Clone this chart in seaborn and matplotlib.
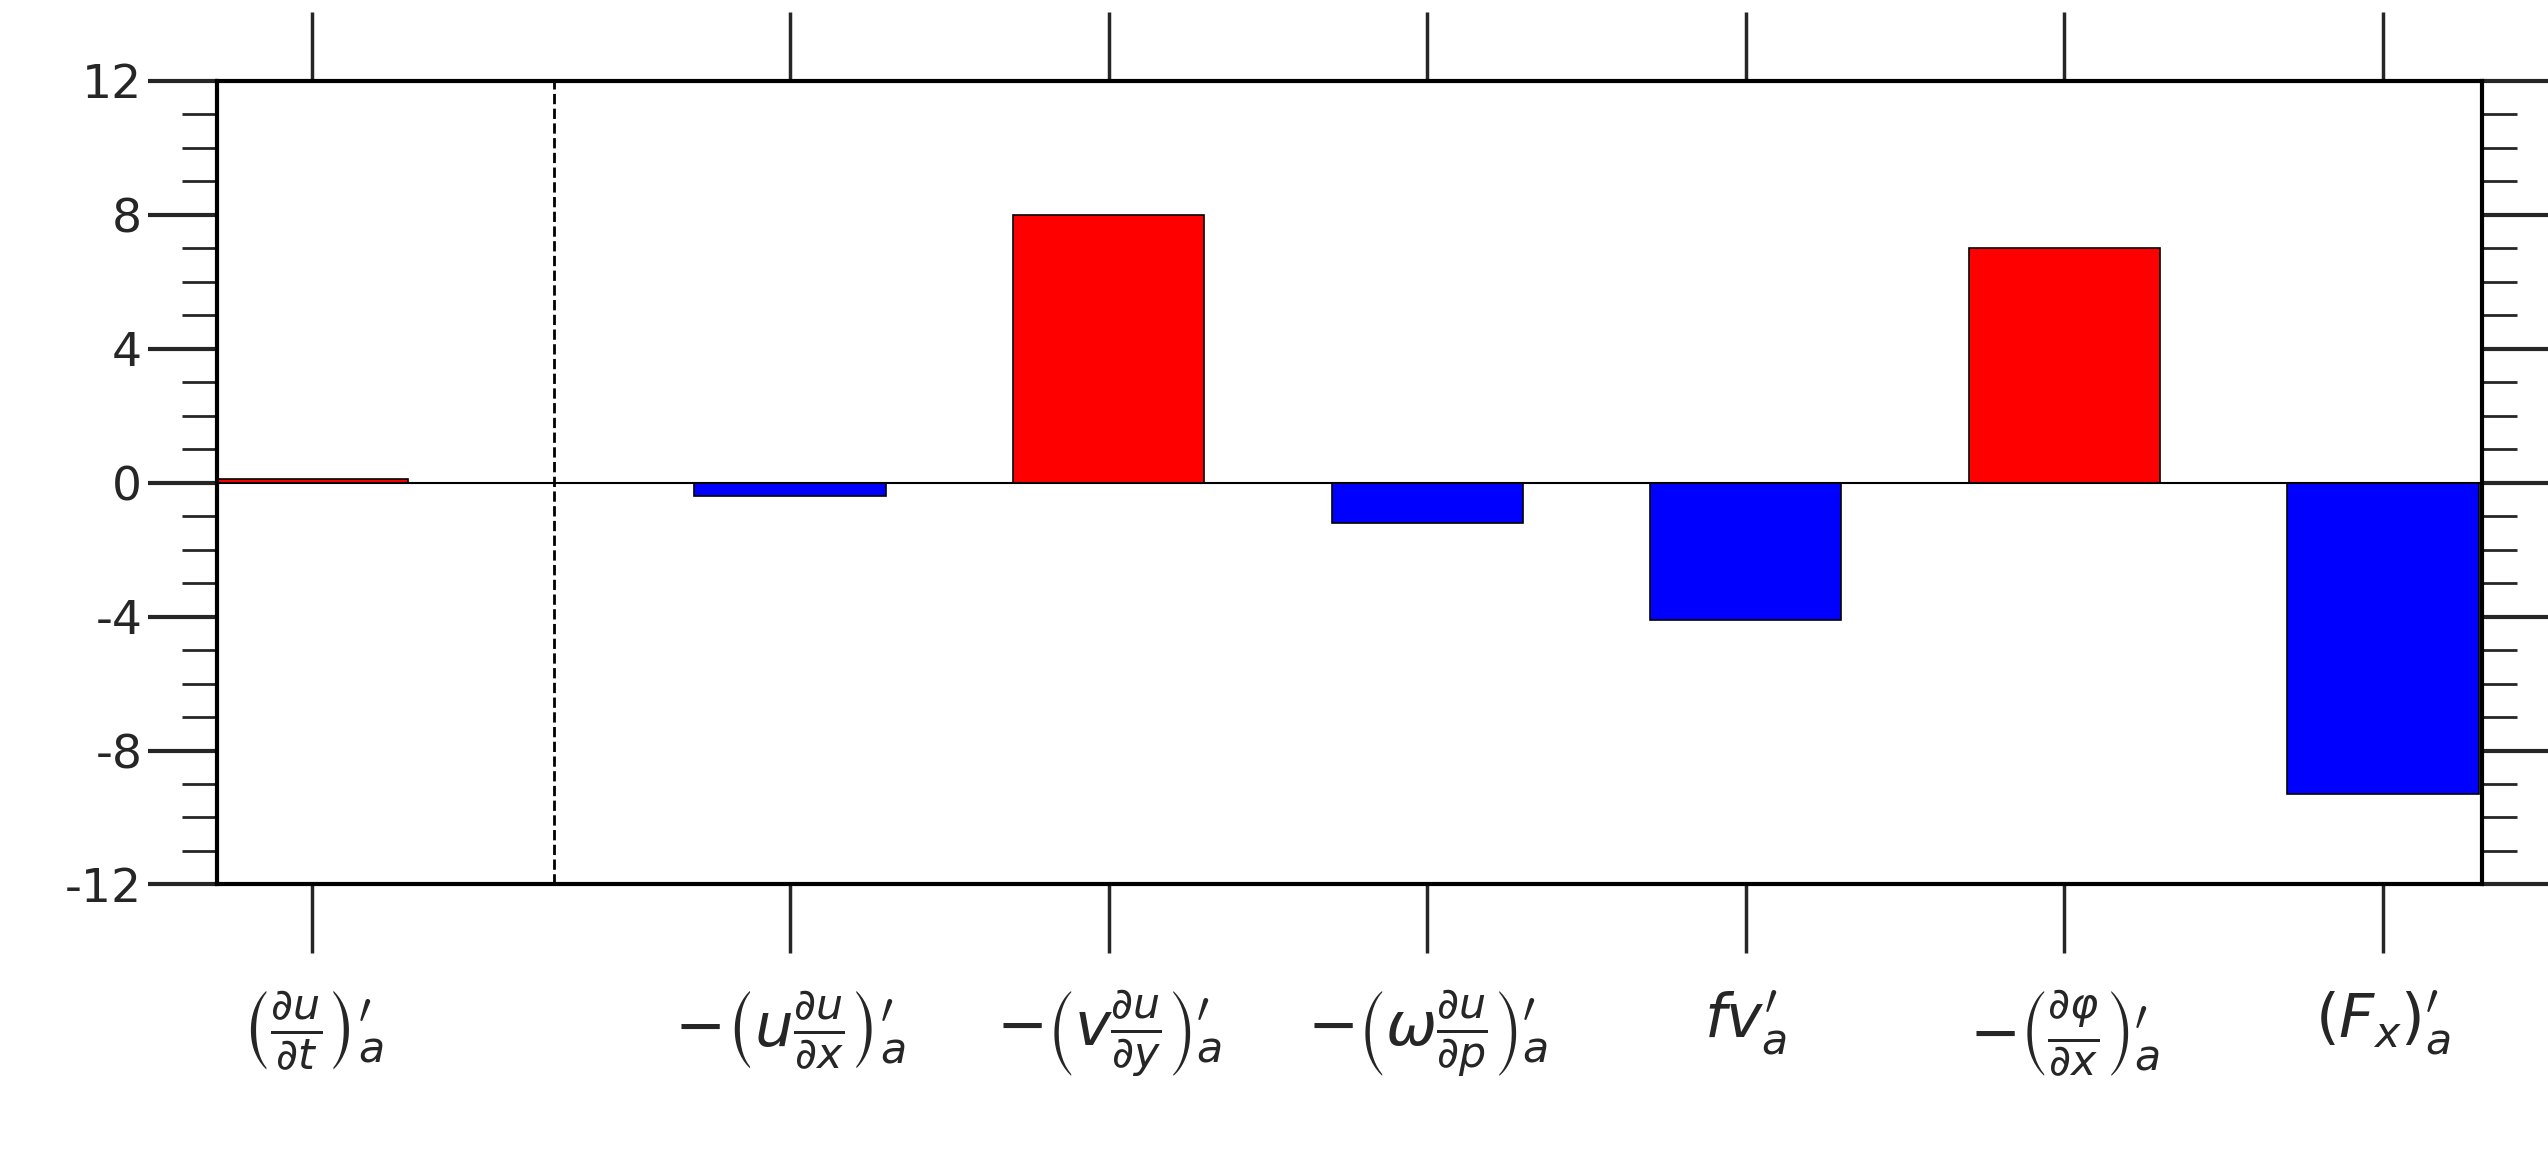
import matplotlib
matplotlib.use('Agg')
import matplotlib.pyplot as plt
from matplotlib.ticker import MultipleLocator
import seaborn as sns
import pandas as pd

# --- Data ---
positions = [0, 1.5, 2.5, 3.5, 4.5, 5.5, 6.5]
values = [0.1, -0.4, 8.0, -1.2, -4.1, 7.0, -9.3]
labels = [
    r"$\left(\frac{\partial u}{\partial t}\right)_a^{\prime}$",
    r"$-\left(u\frac{\partial u}{\partial x}\right)_a^{\prime}$",
    r"$-\left(v\frac{\partial u}{\partial y}\right)_a^{\prime}$",
    r"$-\left(\omega\frac{\partial u}{\partial p}\right)_a^{\prime}$",
    r"$fv_a^{\prime}$",
    r"$-\left(\frac{\partial \varphi}{\partial x}\right)_a^{\prime}$",
    r"$(F_x)_a^{\prime}$",
]

sns.set_theme(style="ticks")
plt.rcParams['font.family'] = ['DejaVu Sans']
plt.rcParams['mathtext.fontset'] = 'dejavusans'

fig = plt.figure(figsize=(25.48, 11.73), dpi=100)
ax = fig.add_axes([0.085, 0.246, 0.889, 0.685])

df = pd.DataFrame({'x': positions, 'y': values})
colors = ['red' if v > 0 else 'blue' for v in df['y']]
ax.bar(df['x'], df['y'], width=0.6, color=colors, edgecolor='black', linewidth=1.2, zorder=2)
ax.axhline(0, color='black', linewidth=1.5, zorder=3)
ax.axvline(0.76, color='black', linestyle='--', linewidth=2, zorder=1)

ax.set_xlim(-0.30, 6.81)
ax.set_ylim(-12, 12)
ax.yaxis.set_major_locator(MultipleLocator(4))
ax.yaxis.set_minor_locator(MultipleLocator(1))
ax.set_yticks([-12, -8, -4, 0, 4, 8, 12])
ax.set_yticklabels(['-12', '-8', '-4', '0', '4', '8', '12'], fontsize=34)

ax.set_xticks(positions)
ax.set_xticklabels(labels, fontsize=44)
ax.tick_params(axis='x', which='major', direction='out', length=50, width=2.5,
               top=True, bottom=True, pad=25)
ax.tick_params(axis='y', which='major', direction='out', length=50, width=3,
               left=True, right=True)
ax.tick_params(axis='y', which='minor', direction='out', length=25, width=2,
               left=True, right=True)
for s in ax.spines.values():
    s.set_linewidth(3)
    s.set_color('black')

fig.savefig('out.png', dpi=100)
